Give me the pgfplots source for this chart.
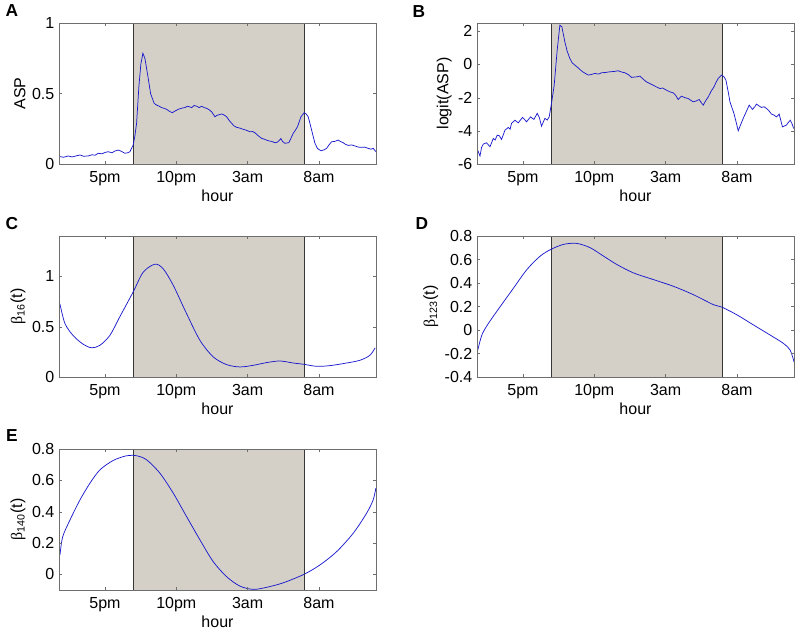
\documentclass[border=0pt]{standalone}
\usepackage{fontspec}
\setmainfont{Liberation Sans}
\newfontfamily\symfont{Liberation Serif}
\usepackage{pgfplots}
\pgfplotsset{compat=1.18}
\definecolor{NightShade}{RGB}{212,208,200}
\definecolor{FrameGray}{RGB}{110,110,110}
\definecolor{EdgeDark}{RGB}{55,55,55}
\definecolor{CurveBlue}{RGB}{25,25,205}

\newcommand{\lbl}{\fontsize{12}{14}\selectfont}
\newcommand{\betat}[1]{{\symfont β}\textsubscript{#1}(t)}

\pgfplotsset{
  hourpanel/.style={
    scale only axis, width=237.75pt, height=105.75pt, anchor=south west,
    xmin=13.78, xmax=36,
    xtick={17,22,27,32}, xticklabels={5pm,10pm,3am,8am},
    xlabel={hour},
    tick align=inside, tick pos=both, major tick length=2.5pt,
    axis line style={FrameGray}, tick style={FrameGray},
    tick label style={font=\lbl}, label style={font=\lbl},
    xticklabel style={yshift=-2pt},
    xlabel style={yshift=4pt},
    ylabel style={yshift=-2pt},
    /pgf/number format/assume math mode=true,
    axis on top, clip=true,
  },
  curve/.style={CurveBlue, line width=0.55pt, no marks},
  edge/.style={EdgeDark, line width=0.6pt, no marks},
}

\begin{document}
\begin{tikzpicture}
\path[use as bounding box] (0,0) rectangle (597pt,-474pt);

% A
\begin{axis}[hourpanel, at={(44.25pt,-123pt)}, ymin=0, ymax=1, ytick={0,0.5,1}, ylabel={ASP}]
\addplot[fill=NightShade, draw=none] coordinates {(19,0) (31,0) (31,1) (19,1) (19,0)};
\addplot[edge] coordinates {(19,0) (19,1)};
\addplot[edge] coordinates {(31,0) (31,1)};
\addplot[curve] coordinates {
(13.78,0.045) (13.85,0.052) (14.1,0.048) (14.43,0.057) (14.7,0.050) (15.0,0.058) (15.25,0.064) (15.5,0.055) (15.83,0.057)
(16.1,0.066) (16.3,0.062) (16.53,0.076) (16.8,0.072) (17.0,0.082) (17.23,0.087) (17.5,0.080) (17.7,0.092) (17.93,0.099)
(18.15,0.090) (18.4,0.076) (18.6,0.080) (18.75,0.087) (18.98,0.135) (19.1,0.20) (19.22,0.29) (19.38,0.55) (19.52,0.71)
(19.66,0.785) (19.8,0.75) (20.03,0.61) (20.2,0.50) (20.32,0.466) (20.45,0.43) (20.62,0.418) (20.8,0.41) (20.97,0.40)
(21.15,0.395) (21.32,0.388) (21.5,0.375) (21.72,0.364) (21.9,0.375) (22.14,0.388) (22.35,0.395) (22.6,0.40) (22.8,0.41)
(23.08,0.40) (23.25,0.415) (23.43,0.41) (23.6,0.40) (23.78,0.41) (23.95,0.40) (24.13,0.395) (24.3,0.385) (24.48,0.37)
(24.71,0.335) (24.85,0.345) (25.01,0.350) (25.18,0.355) (25.35,0.348) (25.53,0.335) (25.7,0.31) (25.88,0.289) (26.05,0.27)
(26.23,0.26) (26.45,0.255) (26.69,0.246) (26.9,0.24) (27.16,0.229) (27.35,0.23) (27.51,0.222) (27.75,0.20) (27.98,0.182)
(28.2,0.175) (28.44,0.165) (28.7,0.16) (28.91,0.151) (29.1,0.155) (29.33,0.18) (29.45,0.16) (29.61,0.147) (29.89,0.151)
(30.05,0.185) (30.2,0.218) (30.35,0.24) (30.5,0.265) (30.74,0.335) (30.97,0.364) (31.1,0.355) (31.25,0.335) (31.49,0.24)
(31.72,0.147) (31.9,0.11) (32.14,0.094) (32.35,0.10) (32.54,0.111) (32.7,0.135) (32.89,0.158) (33.1,0.16) (33.35,0.17)
(33.5,0.16) (33.7,0.151) (33.85,0.14) (34.05,0.132) (34.3,0.135) (34.52,0.128) (34.75,0.12) (34.99,0.118) (35.2,0.12)
(35.45,0.111) (35.65,0.105) (35.8,0.111) (36.0,0.087)
};
\end{axis}

% B
\begin{axis}[hourpanel, at={(357.75pt,-123pt)}, ymin=-6, ymax=2.5, ytick={-6,-4,-2,0,2}, ylabel={logit(ASP)}]
\addplot[fill=NightShade, draw=none] coordinates {(19,-6) (31,-6) (31,2.5) (19,2.5) (19,-6)};
\addplot[edge] coordinates {(19,-6) (19,2.5)};
\addplot[edge] coordinates {(31,-6) (31,2.5)};
\addplot[curve] coordinates {
(13.80,-5.1) (13.87,-5.26) (13.99,-5.52) (14.1,-5.0) (14.22,-4.8) (14.45,-4.72) (14.69,-4.96) (14.92,-4.46) (15.05,-4.55)
(15.2,-4.26) (15.35,-4.3) (15.5,-4.52) (15.74,-3.96) (15.97,-3.8) (16.1,-3.9) (16.2,-3.55) (16.44,-3.36) (16.67,-3.52)
(16.97,-3.19) (17.1,-3.3) (17.25,-3.46) (17.53,-3.16) (17.77,-3.31) (18.0,-2.95) (18.15,-3.2) (18.3,-3.72) (18.54,-3.25)
(18.7,-3.35) (18.84,-3.16) (19.0,-2.35) (19.19,-1.25) (19.4,0.86) (19.59,2.37) (19.73,2.27) (19.94,1.36) (20.1,0.8)
(20.29,0.36) (20.45,0.1) (20.64,-0.04) (20.8,-0.15) (20.99,-0.3) (21.2,-0.45) (21.4,-0.55) (21.58,-0.64) (21.8,-0.6)
(22.05,-0.54) (22.3,-0.58) (22.51,-0.5) (22.8,-0.48) (23.1,-0.44) (23.4,-0.42) (23.68,-0.38) (23.9,-0.45) (24.15,-0.5)
(24.4,-0.62) (24.61,-0.78) (24.8,-0.76) (25.03,-0.74) (25.2,-0.70) (25.45,-0.9) (25.66,-1.05) (25.9,-1.15) (26.13,-1.25)
(26.35,-1.35) (26.6,-1.45) (26.8,-1.42) (27.06,-1.55) (27.3,-1.65) (27.53,-1.71) (27.7,-1.85) (27.88,-2.11) (28.11,-1.91)
(28.35,-2.0) (28.58,-2.05) (28.75,-2.15) (28.93,-2.25) (29.15,-2.2) (29.35,-2.11) (29.5,-2.3) (29.64,-2.45) (29.8,-2.2)
(29.99,-1.95) (30.2,-1.6) (30.39,-1.35) (30.55,-1.05) (30.69,-0.84) (30.92,-0.64) (31.1,-0.75) (31.23,-0.95) (31.4,-1.7)
(31.51,-2.25) (31.65,-2.6) (31.79,-2.95) (31.95,-3.5) (32.09,-4.0) (32.25,-3.65) (32.44,-3.25) (32.65,-2.85) (32.86,-2.45)
(33.09,-2.71) (33.25,-2.55) (33.37,-2.39) (33.55,-2.5) (33.72,-2.59) (33.9,-2.55) (34.07,-2.65) (34.25,-2.8) (34.42,-2.99)
(34.6,-3.05) (34.77,-3.16) (34.96,-2.99) (35.19,-3.76) (35.46,-3.66) (35.6,-3.5) (35.74,-3.36) (35.85,-3.55) (35.98,-3.86)
};
\end{axis}

% C
\begin{axis}[hourpanel, at={(44.25pt,-282.75pt)}, ymin=0, ymax=1.4, ytick={0,0.5,1}, ylabel={\betat{16}}]
\addplot[fill=NightShade, draw=none] coordinates {(19,0) (31,0) (31,1.4) (19,1.4) (19,0)};
\addplot[edge] coordinates {(19,0) (19,1.4)};
\addplot[edge] coordinates {(31,0) (31,1.4)};
\addplot[curve, smooth] coordinates {
(13.80,0.74) (13.85,0.72) (14.2,0.53) (14.78,0.41) (15.48,0.325) (16.07,0.29) (16.65,0.315) (17.35,0.414) (18.05,0.6)
(18.98,0.845) (19.68,1.04) (20.5,1.12) (21.08,1.075) (21.79,0.91) (22.72,0.63) (23.66,0.364) (24.59,0.2) (25.53,0.123)
(26.46,0.1) (27.39,0.116) (28.33,0.143) (29.26,0.159) (30.2,0.139) (30.95,0.126) (31.84,0.106) (32.77,0.113) (33.94,0.139)
(34.87,0.166) (35.57,0.215) (35.94,0.29)
};
\end{axis}

% D
\begin{axis}[hourpanel, at={(357.75pt,-282.75pt)}, ymin=-0.4, ymax=0.8, ytick={-0.4,-0.2,0,0.2,0.4,0.6,0.8},
  yticklabel style={/pgf/number format/fixed, /pgf/number format/precision=1}, ylabel={\betat{123}}]
\addplot[fill=NightShade, draw=none] coordinates {(19,-0.4) (31,-0.4) (31,0.8) (19,0.8) (19,-0.4)};
\addplot[edge] coordinates {(19,-0.4) (19,0.8)};
\addplot[edge] coordinates {(31,-0.4) (31,0.8)};
\addplot[curve, smooth] coordinates {
(13.82,-0.177) (14.13,-0.04) (14.59,0.058) (15.41,0.2) (16.34,0.357) (17.28,0.515) (18.21,0.629) (18.96,0.686) (19.85,0.729)
(20.78,0.737) (21.72,0.7) (22.65,0.629) (23.59,0.557) (24.75,0.486) (26.15,0.429) (27.55,0.372) (28.96,0.3) (30.36,0.215)
(30.94,0.195) (32.0,0.129) (33.16,0.043) (34.33,-0.043) (35.26,-0.114) (35.73,-0.171) (36.0,-0.27)
};
\end{axis}

% E
\begin{axis}[hourpanel, at={(44.25pt,-442.5pt)}, ymin=-0.1, ymax=0.8, ytick={0,0.2,0.4,0.6,0.8},
  yticklabel style={/pgf/number format/fixed, /pgf/number format/precision=1}, ylabel={\betat{140}}]
\addplot[fill=NightShade, draw=none] coordinates {(19,-0.1) (31,-0.1) (31,0.8) (19,0.8) (19,-0.1)};
\addplot[edge] coordinates {(19,-0.1) (19,0.8)};
\addplot[edge] coordinates {(31,-0.1) (31,0.8)};
\addplot[curve, smooth] coordinates {
(13.85,0.124) (14.04,0.24) (14.55,0.347) (15.25,0.475) (15.95,0.582) (16.65,0.667) (17.58,0.727) (18.52,0.757) (19.22,0.757)
(19.92,0.731) (20.85,0.646) (21.79,0.518) (22.72,0.369) (23.66,0.22) (24.59,0.081) (25.53,-0.015) (26.46,-0.075) (27.39,-0.096)
(28.33,-0.083) (29.5,-0.054) (30.95,0.0) (32.07,0.06) (33.24,0.145) (34.4,0.262) (35.34,0.39) (35.8,0.475) (35.99,0.55)
};
\end{axis}

\node[font=\fontsize{13}{15}\selectfont\bfseries] at (9pt,-8.25pt) {A};
\node[font=\fontsize{13}{15}\selectfont\bfseries] at (314.25pt,-9pt) {B};
\node[font=\fontsize{13}{15}\selectfont\bfseries] at (9pt,-168pt) {C};
\node[font=\fontsize{13}{15}\selectfont\bfseries] at (316.5pt,-168pt) {D};
\node[font=\fontsize{13}{15}\selectfont\bfseries] at (9pt,-327pt) {E};
\end{tikzpicture}
\end{document}
